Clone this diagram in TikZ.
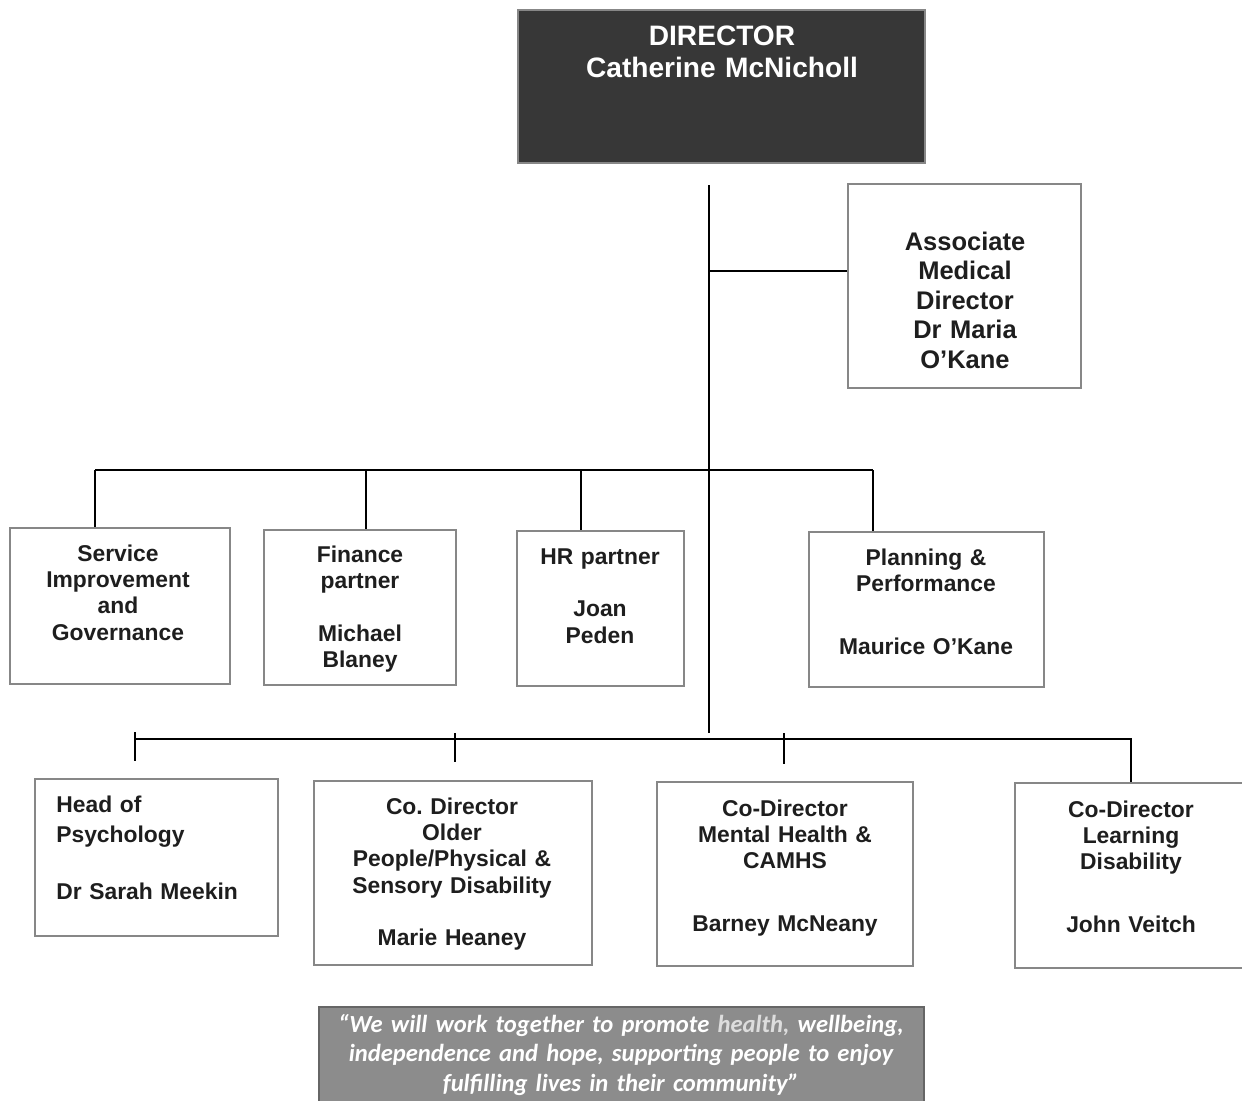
\documentclass[tikz,border=0pt]{standalone}
\usepackage{fontspec}
\setmainfont{Liberation Sans}
\newfontfamily\quotefont{Carlito}
\usetikzlibrary{fit}
\definecolor{boxgray}{RGB}{135,135,135}
\definecolor{dirfill}{RGB}{55,55,55}
\definecolor{quotefill}{RGB}{140,140,140}
\definecolor{txtblack}{RGB}{30,30,30}
\begin{document}
\begin{tikzpicture}[x=0.2mm,y=-0.2mm,
  box/.style={draw=boxgray,line width=1.6pt,inner sep=0pt,fill=white},
  dirbox/.style={draw=boxgray,line width=1.2pt,inner sep=0pt,fill=dirfill},
  quotebox/.style={draw=gray!80!black,line width=1pt,inner sep=0pt,fill=quotefill},
  txt/.style={font=\bfseries\fontsize{13}{15}\selectfont,text=txtblack,align=center,anchor=base,inner sep=0pt},
  bigtxt/.style={font=\bfseries\fontsize{14.5}{16.8}\selectfont,text=txtblack,align=center,anchor=base,inner sep=0pt},
  dirtxt/.style={font=\bfseries\fontsize{16}{18.1}\selectfont,text=white,align=center,anchor=base,inner sep=0pt},
  quotetxt/.style={font=\quotefont\bfseries\itshape\fontsize{14}{17}\selectfont,text=white,align=center,anchor=base,inner sep=0pt},
  conn/.style={draw=black,line width=0.9pt}]
\useasboundingbox (0,0) rectangle (1242,1100);

% boxes
\node[dirbox,fit={(518,10) (925,163)}] (dir) {};
\node[box,fit={(848,184) (1081,388)}] (amd) {};
\node[box,fit={(10,528) (230,684)}] (sig) {};
\node[box,fit={(264,530) (456,685)}] (fin) {};
\node[box,fit={(517,531) (684,686)}] (hr) {};
\node[box,fit={(809,532) (1044,687)}] (pp) {};
\node[box,fit={(35,779) (278,936)}] (psy) {};
\node[box,fit={(314,781) (592,965)}] (old) {};
\node[box,fit={(657,782) (913,966)}] (mh) {};
\node[box,fit={(1015,783) (1250,968)}] (ld) {};
\node[quotebox,fit={(319,1007) (924,1108)}] (quote) {};

% texts
\node[dirtxt,text width=80mm] (dirt) at (722,46) {DIRECTOR\\Catherine McNicholl};
\node[bigtxt,text width=44mm] (amdt) at (965,250) {Associate\\Medical\\Director\\Dr Maria\\O'Kane};
\node[txt,text width=42mm] (sigt) at (118,561) {Service\\Improvement\\and\\Governance};
\node[txt,text width=36mm] (fint) at (360,562) {Finance\\partner\\[15pt]Michael\\Blaney};
\node[txt,text width=32mm] (hrt) at (600,564) {HR partner\\[15pt]Joan\\Peden};
\node[txt,text width=44mm] (ppt) at (926,565) {Planning \&\\Performance\\[20.7pt]Maurice O'Kane};
\node[txt,align=left,anchor=base west,text width=44mm] (psyt) at (56,812) {Head of\\[2.6pt]Psychology\\[17.3pt]Dr Sarah Meekin};
\node[txt,text width=54mm] (oldt) at (452,814) {Co.\ Director\\Older\\People/Physical \&\\Sensory Disability\\[15pt]Marie Heaney};
\node[txt,text width=50mm] (mht) at (785,816) {Co-Director\\Mental Health \&\\CAMHS\\[21pt]Barney McNeany};
\node[txt,text width=44mm] (ldt) at (1131,817) {Co-Director\\Learning\\Disability\\[20.7pt]John Veitch};
\node[quotetxt,text width=122mm] (quotet) at (621,1032) {\textquotedblleft We will work together to promote {\color{white!70!quotefill}health,} wellbeing,\\independence and hope, supporting people to enjoy\\fulfilling lives in their community\textquotedblright};

% connectors
\coordinate (ttop) at (709,185);
\coordinate (tbot) at (709,733);
\coordinate (jamd) at (709,271);
\draw[conn] (ttop) -- (tbot);
\draw[conn] (jamd) -- (jamd -| amd.west);

\coordinate (b1l) at (95,470);
\coordinate (b1a) at (366,470);
\coordinate (b1b) at (581,470);
\coordinate (b1r) at (873,470);
\draw[conn] (b1l) -- (b1r);
\draw[conn] (b1l) -- (b1l |- sig.north);
\draw[conn] (b1a) -- (b1a |- fin.north);
\draw[conn] (b1b) -- (b1b |- hr.north);
\draw[conn] (b1r) -- (b1r |- pp.north);

\coordinate (b2l) at (135,739);
\coordinate (b2r) at (1131,739);
\draw[conn] (b2l) -- (b2r) -- (b2r |- ld.north);
\coordinate (k1t) at (135,732);
\coordinate (k1b) at (135,761);
\coordinate (k2t) at (455,733);
\coordinate (k2b) at (455,762);
\coordinate (k3t) at (784,733);
\coordinate (k3b) at (784,764);
\draw[conn] (k1t) -- (k1b);
\draw[conn] (k2t) -- (k2b);
\draw[conn] (k3t) -- (k3b);
\end{tikzpicture}
\end{document}
